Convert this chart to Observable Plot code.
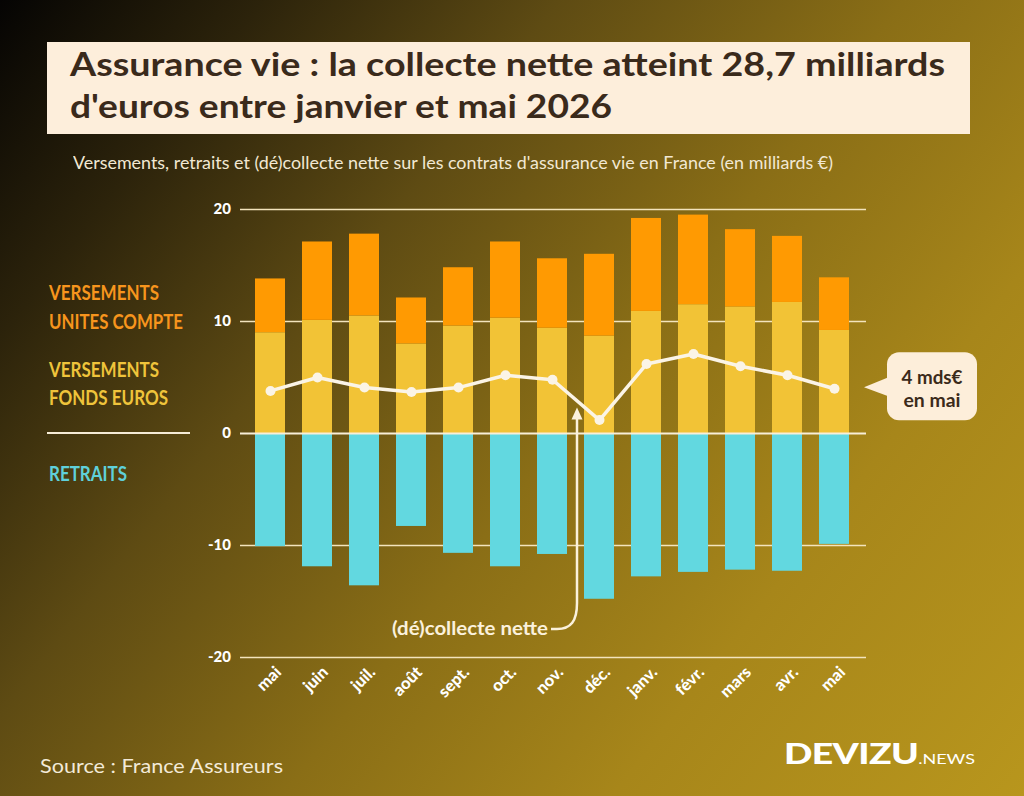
<!DOCTYPE html>
<html><head><meta charset="utf-8">
<script src="https://cdn.jsdelivr.net/npm/d3@7"></script>
<script src="https://cdn.jsdelivr.net/npm/@observablehq/plot@0.6"></script>
<style>
html,body{margin:0;padding:0;}
body{width:1024px;height:796px;overflow:hidden;position:relative;
  background: linear-gradient(128deg, #050403 0%, #2c230b 16%, #5e4b13 34%, #8a6e16 55%, #a7861a 75%, #b8961d 100%);
  font-family: Lato, "Open Sans", sans-serif;}
.abs{position:absolute;white-space:nowrap;transform-origin:0 0;}
#titlebox{position:absolute;left:47px;top:42px;width:923px;height:92px;background:#fdeedb;}
.title{font-weight:700;font-size:32px;line-height:42px;color:#3a2a1b;left:70px;}
#subtitle{left:73px;top:152px;font-size:18px;line-height:20px;color:#f2e8d3;font-weight:400;}
.leg{font-weight:700;font-size:21px;line-height:24px;left:49px;}
#chart{position:absolute;left:0;top:180px;}
#source{left:40px;top:755px;font-size:19px;line-height:22px;color:#f3ead8;font-weight:400;}
#logo{left:784px;top:735px;color:#fff;}
</style></head>
<body>
<div id="titlebox"></div>
<div class="abs title" id="t1" style="top:43px">Assurance vie : la collecte nette atteint 28,7 milliards</div>
<div class="abs title" id="t2" style="top:85px">d'euros entre janvier et mai 2026</div>
<div class="abs" id="subtitle">Versements, retraits et (dé)collecte nette sur les contrats d'assurance vie en France (en milliards €)</div>
<div class="abs leg" id="l1" style="top:280px;color:#f7951d">VERSEMENTS</div>
<div class="abs leg" id="l2" style="top:309px;color:#f7951d">UNITES COMPTE</div>
<div class="abs leg" id="l3" style="top:357px;color:#efc43b">VERSEMENTS</div>
<div class="abs leg" id="l4" style="top:385px;color:#efc43b">FONDS EUROS</div>
<div class="abs" style="left:47px;top:432px;width:143px;height:2px;background:#f6ecd6"></div>
<div class="abs leg" id="l5" style="top:461px;color:#5fd0da">RETRAITS</div>
<div id="chart"></div>
<div class="abs" id="source">Source : France Assureurs</div>
<div class="abs" id="logo"><span id="dev" style="font-size:29px;font-weight:900;letter-spacing:-0.5px">DEVIZU</span><span id="news" style="font-size:14px;font-weight:400">.NEWS</span></div>
<script>
// ---- data ----
const months = ["mai","juin","juil.","août","sept.","oct.","nov.","déc.","janv.","févr.","mars","avr.","mai"];
const fondsEuros    = [9.0, 10.1, 10.5, 8.0, 9.6, 10.3, 9.4, 8.7, 10.9, 11.5, 11.3, 11.7, 9.2];
const unitesCompte  = [4.8, 7.0, 7.3, 4.1, 5.2, 6.8, 6.2, 7.3, 8.3, 8.0, 6.9, 5.9, 4.7];
const retraits      = [-10.1, -11.9, -13.6, -8.3, -10.7, -11.9, -10.8, -14.8, -12.8, -12.4, -12.2, -12.3, -9.9];
const collecteNette = [3.8, 5.0, 4.1, 3.7, 4.1, 5.2, 4.8, 1.2, 6.2, 7.1, 6.0, 5.2, 4.0];
const yTicks = [-20, -10, 0, 10, 20];
const series = ["fonds", "uc", "retraits"];
const seriesColors = ["#f2c336", "#ff9a02", "#62d8e0"];

const rows = months.flatMap((m, i) => [
  {k: i, s: "fonds", v: fondsEuros[i]},
  {k: i, s: "uc", v: unitesCompte[i]},
  {k: i, s: "retraits", v: retraits[i]}
]);
const net = collecteNette.map((v, i) => ({k: i, v}));

const W = 1024, H = 540;
const plot = Plot.plot({
  width: W, height: H,
  marginLeft: 246.5, marginRight: 166.5, marginTop: 29, marginBottom: 63,
  style: {background: "transparent", fontFamily: "Lato, sans-serif", color: "#fff", overflow: "visible"},
  x: {type: "band", domain: d3.range(months.length), paddingInner: 0.36, paddingOuter: 0.18, axis: null},
  y: {domain: [-20, 20], axis: null},
  color: {domain: series, range: seriesColors},
  marks: [
    Plot.ruleY(yTicks.filter(d => d !== 0), {stroke: "#f3e4bd", strokeWidth: 1.5, insetLeft: -6.5, insetRight: -8.5}),
    Plot.barY(rows, {x: "k", y: "v", fill: "s", order: null}),
    Plot.ruleY([0], {stroke: "#f8eed8", strokeWidth: 2, insetLeft: -6.5, insetRight: -8.5}),
    Plot.line(net, {x: "k", y: "v", stroke: "#fbf4e6", strokeWidth: 3.5}),
    Plot.dot(net, {x: "k", y: "v", r: 5, fill: "#fbf4e6"}),
    Plot.axisY(yTicks, {label: null, tickSize: 0, tickPadding: 16, tickFormat: d => String(d), fontSize: 15, fontWeight: 900, fill: "#fff"}),
    Plot.axisX({label: null, tickSize: 0, tickPadding: 10, dx: 8, dy: 2, tickRotate: -45, tickFormat: i => months[i], fontSize: 16.5, fontWeight: 900, fill: "#fff"})
  ]
});
document.getElementById("chart").appendChild(plot);

// ---- annotations, positioned with the plot's scales ----
const xs = plot.scale("x"), ys = plot.scale("y");
const svg = d3.select(plot);
const g = svg.append("g");
const xA = xs.apply(7) - (xs.step - xs.bandwidth) / 2 + 1.5;
const yTxt = ys.apply(-17.5);
const yTip = ys.apply(2.0);
g.append("path")
  .attr("d", `M${xA-26},${yTxt} L${xA-20},${yTxt} C${xA-6},${yTxt} ${xA},${yTxt-8} ${xA},${yTxt-26} L${xA},${yTip+8}`)
  .attr("fill", "none").attr("stroke", "#fbf1dc").attr("stroke-width", 2.5);
g.append("path")
  .attr("d", `M${xA},${yTip-3} L${xA-5.5},${yTip+9} L${xA+5.5},${yTip+9} Z`)
  .attr("fill", "#fbf1dc");
g.append("text").text("(dé)collecte nette")
  .attr("x", xA - 29).attr("y", yTxt + 6).attr("text-anchor", "end")
  .attr("font-size", 18).attr("font-weight", "bold").attr("fill", "#fbf1dc")
  .attr("textLength", 156).attr("lengthAdjust", "spacingAndGlyphs");

// callout for last point
const last = months.length - 1;
const px = xs.apply(last) + xs.bandwidth / 2, py = ys.apply(collecteNette[last]);
const bx = px + 53, bw = 90, by = py - 36, bh = 68;
g.append("path")
  .attr("d", `M${px+30},${py-1} L${bx+4},${py-12} L${bx+4},${py+9} Z`).attr("fill", "#fdeeda");
g.append("rect").attr("x", bx).attr("y", by).attr("width", bw).attr("height", bh).attr("rx", 12).attr("fill", "#fdeeda");
g.append("text").text("4 mds€").attr("x", bx + bw/2).attr("y", by + 32).attr("text-anchor", "middle")
  .attr("font-size", 19).attr("font-weight", "bold").attr("fill", "#3b2a1a")
  .attr("textLength", 61).attr("lengthAdjust", "spacingAndGlyphs");
g.append("text").text("en mai").attr("x", bx + bw/2).attr("y", by + 55).attr("text-anchor", "middle")
  .attr("font-size", 19).attr("font-weight", "bold").attr("fill", "#3b2a1a")
  .attr("textLength", 57).attr("lengthAdjust", "spacingAndGlyphs");

// ---- fit HTML text widths ----
function fit(id, w) {
  const el = document.getElementById(id);
  const r = el.getBoundingClientRect().width;
  el.style.transform = `scaleX(${w / r})`;
}
fit("t1", 875); fit("t2", 542); fit("subtitle", 760);
fit("l1", 110); fit("l2", 134); fit("l3", 110); fit("l4", 119); fit("l5", 78);
fit("source", 243); fit("logo", 191);
</script>
</body></html>
